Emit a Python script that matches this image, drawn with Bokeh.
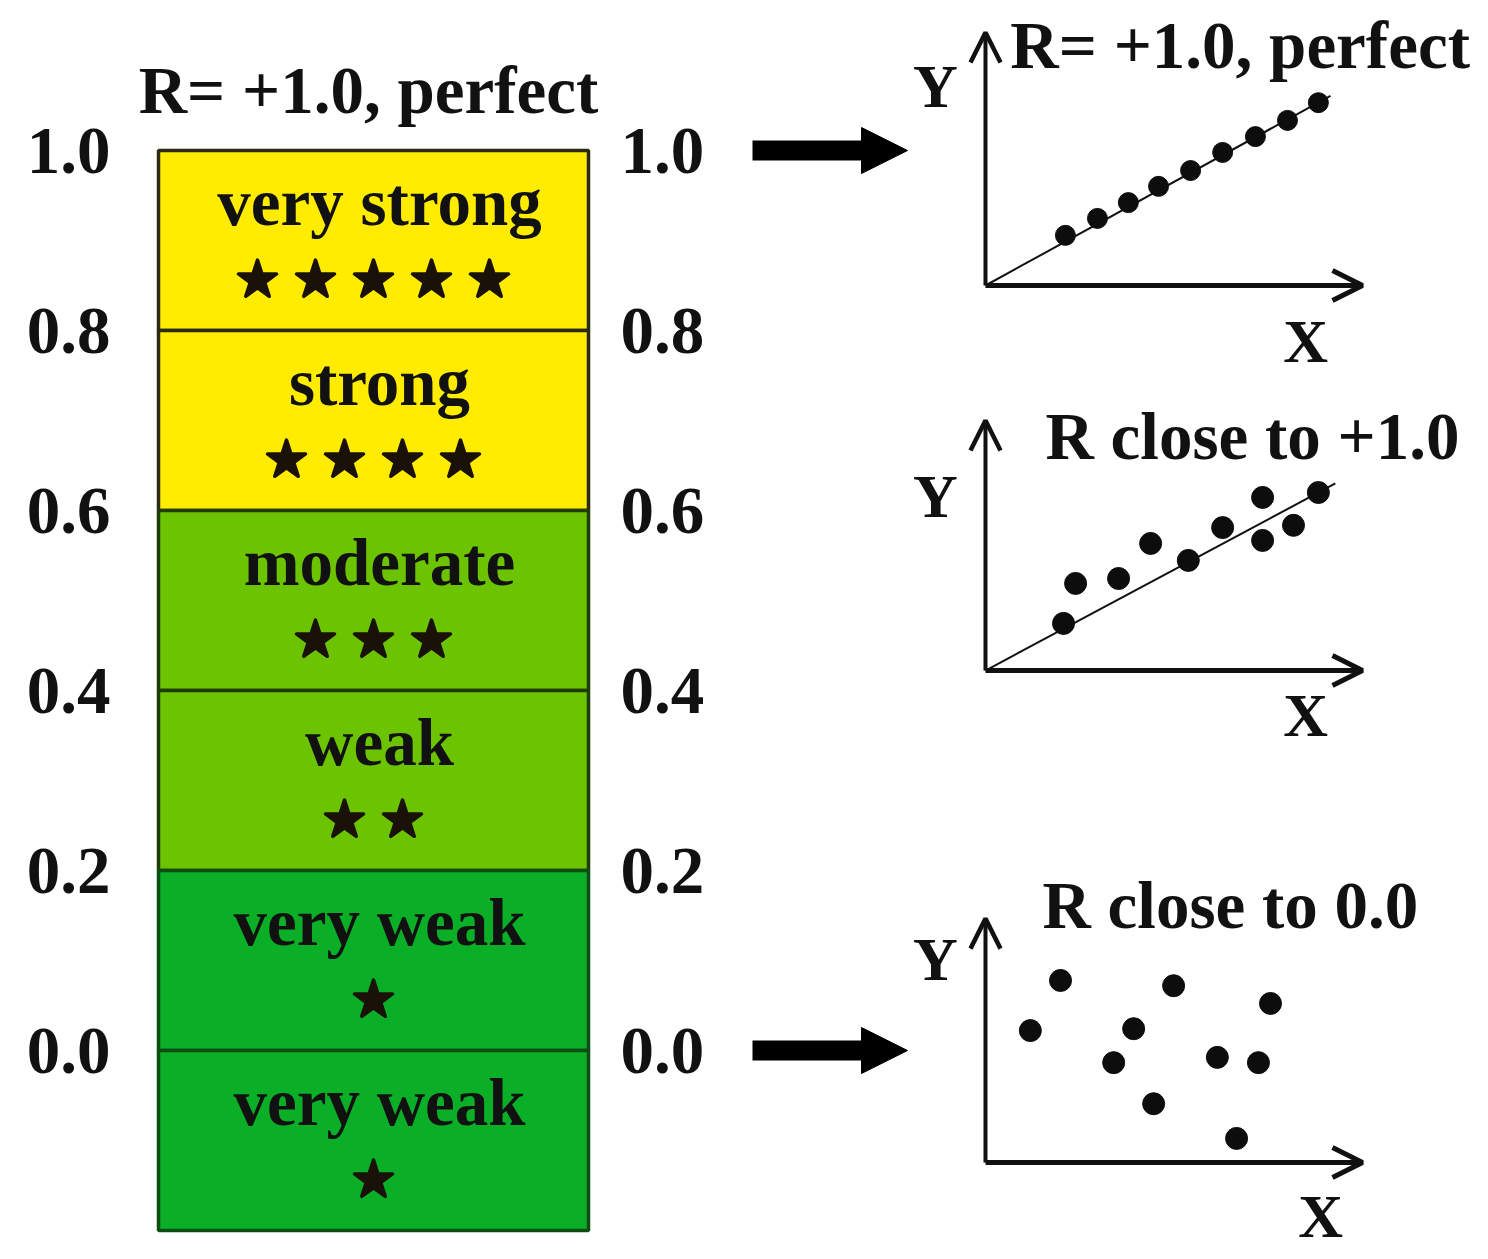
from bokeh.plotting import figure
from bokeh.layouts import row, column
from bokeh.models import Range1d, Arrow, NormalHead, OpenHead
from bokeh.core.properties import value
from bokeh.embed import file_html
from bokeh.resources import INLINE

# ---------------- data ----------------
band_labels = ["very strong", "strong", "moderate", "weak", "very weak", "very weak"]
band_top = [1.0, 0.8, 0.6, 0.4, 0.2, 0.0]
band_bottom = [0.8, 0.6, 0.4, 0.2, 0.0, -0.2]
band_stars = [5, 4, 3, 2, 1, 1]
band_colors = ["#FFEC00", "#FFEC00", "#6CC300", "#6CC300", "#0AAF27", "#0AAF27"]
band_edges = ["#2a2a10", "#2a2a10", "#1d3d05", "#1d3d05", "#0b4d12", "#0b4d12"]
tick_values = [1.0, 0.8, 0.6, 0.4, 0.2, 0.0]
tick_labels = ["1.0", "0.8", "0.6", "0.4", "0.2", "0.0"]
arrow_levels = [1.0, 0.0]
left_title = "R= +1.0, perfect"

perfect_x = [2.12, 2.97, 3.79, 4.59, 5.44, 6.29, 7.16, 8.01, 8.83]
perfect_y = [1.33, 1.78, 2.20, 2.63, 3.05, 3.53, 3.95, 4.38, 4.85]
perfect_fit_x = [0.0, 9.15]
perfect_fit_y = [0.0, 5.03]

close_x = [2.07, 2.39, 3.53, 4.38, 5.38, 6.29, 7.35, 7.35, 8.17, 8.83]
close_y = [1.25, 2.31, 2.44, 3.37, 2.92, 3.79, 4.59, 3.45, 3.85, 4.72]
close_fit_x = [0.0, 9.28]
close_fit_y = [0.0, 4.96]

zero_x = [1.99, 4.99, 7.56, 1.19, 3.93, 3.40, 6.15, 7.24, 4.46, 6.66]
zero_y = [4.83, 4.69, 4.22, 3.50, 3.55, 2.65, 2.79, 2.65, 1.56, 0.64]

panel_titles = ["R= +1.0, perfect", "R close to +1.0", "R close to 0.0"]

# ---------------- styling ----------------
FONT = value("Liberation Serif")
FS = "67px"
INK = "#111111"


def blank(width, height, xr, yr):
    p = figure(width=width, height=height, x_range=xr, y_range=yr,
               output_backend="svg", toolbar_location=None,
               min_border=0, x_axis_location=None, y_axis_location=None)
    p.grid.visible = False
    p.outline_line_color = None
    p.background_fill_color = "white"
    p.border_fill_color = "white"
    return p


# ---------------- left: R scale bar ----------------
bar_left, bar_right = 158, 588
bar_mid = (bar_left + bar_right) / 2
bar = blank(912, 1251, Range1d(0, 912), Range1d(-0.2233, 1.1667))

bar.quad(left=bar_left, right=bar_right, top=band_top, bottom=band_bottom,
         fill_color=band_colors, line_color=band_edges, line_width=3.5)

mids = [(t + b) / 2 for t, b in zip(band_top, band_bottom)]
bar.text(x=[bar_mid + 6] * len(band_labels), y=[m + 0.043 for m in mids], text=band_labels,
         text_font=FONT, text_font_style="bold", text_font_size=FS,
         text_align="center", text_baseline="alphabetic", text_color=INK)

star_x, star_y = [], []
for n, m in zip(band_stars, mids):
    for i in range(n):
        star_x.append(bar_mid + (i - (n - 1) / 2) * 58)
        star_y.append(m - 0.044)
bar.scatter(star_x, star_y, marker="star", size=40, fill_color="#1a1208",
            line_color="#1a1208", line_width=3.5, line_join="round")

bar.text(x=[110] * len(tick_values), y=tick_values, text=tick_labels,
         text_font=FONT, text_font_style="bold", text_font_size=FS,
         text_align="right", text_baseline="middle", text_color=INK)
bar.text(x=[620] * len(tick_values), y=tick_values, text=tick_labels,
         text_font=FONT, text_font_style="bold", text_font_size=FS,
         text_align="left", text_baseline="middle", text_color=INK)

bar.text(x=[368], y=[1.067], text=[left_title],
         text_font=FONT, text_font_style="bold", text_font_size=FS,
         text_align="center", text_baseline="middle", text_color=INK)

for lv in arrow_levels:
    bar.add_layout(Arrow(x_start=752, y_start=lv, x_end=907, y_end=lv,
                         line_width=20, line_color="black",
                         end=NormalHead(size=46, fill_color="black", line_color="black")))


# ---------------- right: scatter panels ----------------
def panel(height, ymin, ymax, title, title_x, title_y, ylab_y, xlab_x, xlab_y,
          ytip, px, py, fit_x=None, fit_y=None, dot=22):
    p = blank(568, height, Range1d(-1.936, 13.13), Range1d(ymin, ymax))
    if fit_x is not None:
        p.line(fit_x, fit_y, line_color=INK, line_width=2)
    p.scatter(px, py, size=dot, fill_color="#0d0d0d", line_color="#0d0d0d")
    p.add_layout(Arrow(x_start=0, y_start=0, x_end=10.0, y_end=0,
                       line_width=5, line_color=INK,
                       end=OpenHead(size=30, line_width=5, line_color=INK)))
    p.add_layout(Arrow(x_start=0, y_start=0, x_end=0, y_end=ytip,
                       line_width=4, line_color=INK,
                       end=OpenHead(size=30, line_width=4.5, line_color=INK)))
    p.text(x=[title_x], y=[title_y], text=[title],
           text_font=FONT, text_font_style="bold", text_font_size=FS,
           text_align="left", text_baseline="middle", text_color=INK)
    p.text(x=[-1.33], y=[ylab_y], text=["Y"],
           text_font=FONT, text_font_style="bold", text_font_size="62px",
           text_align="center", text_baseline="middle", text_color=INK)
    p.text(x=[xlab_x], y=[xlab_y], text=["X"],
           text_font=FONT, text_font_style="bold", text_font_size="62px",
           text_align="center", text_baseline="middle", text_color=INK)
    return p


p1 = panel(380, -2.52, 7.56, panel_titles[0], 0.66, 6.37, 5.3, 8.49, -1.46, 6.71,
           perfect_x, perfect_y, perfect_fit_x, perfect_fit_y, dot=20)
p2 = panel(370, -2.12, 7.69, panel_titles[1], 1.59, 6.23, 4.64, 8.49, -1.19, 6.63,
           close_x, close_y, close_fit_x, close_fit_y)
p3 = panel(501, -2.36, 10.93, panel_titles[2], 1.51, 6.82, 5.41, 8.89, -1.41, 6.47,
           zero_x, zero_y)

layout = row(bar, column(p1, p2, p3))

open("out.html", "w").write(file_html(layout, INLINE))
